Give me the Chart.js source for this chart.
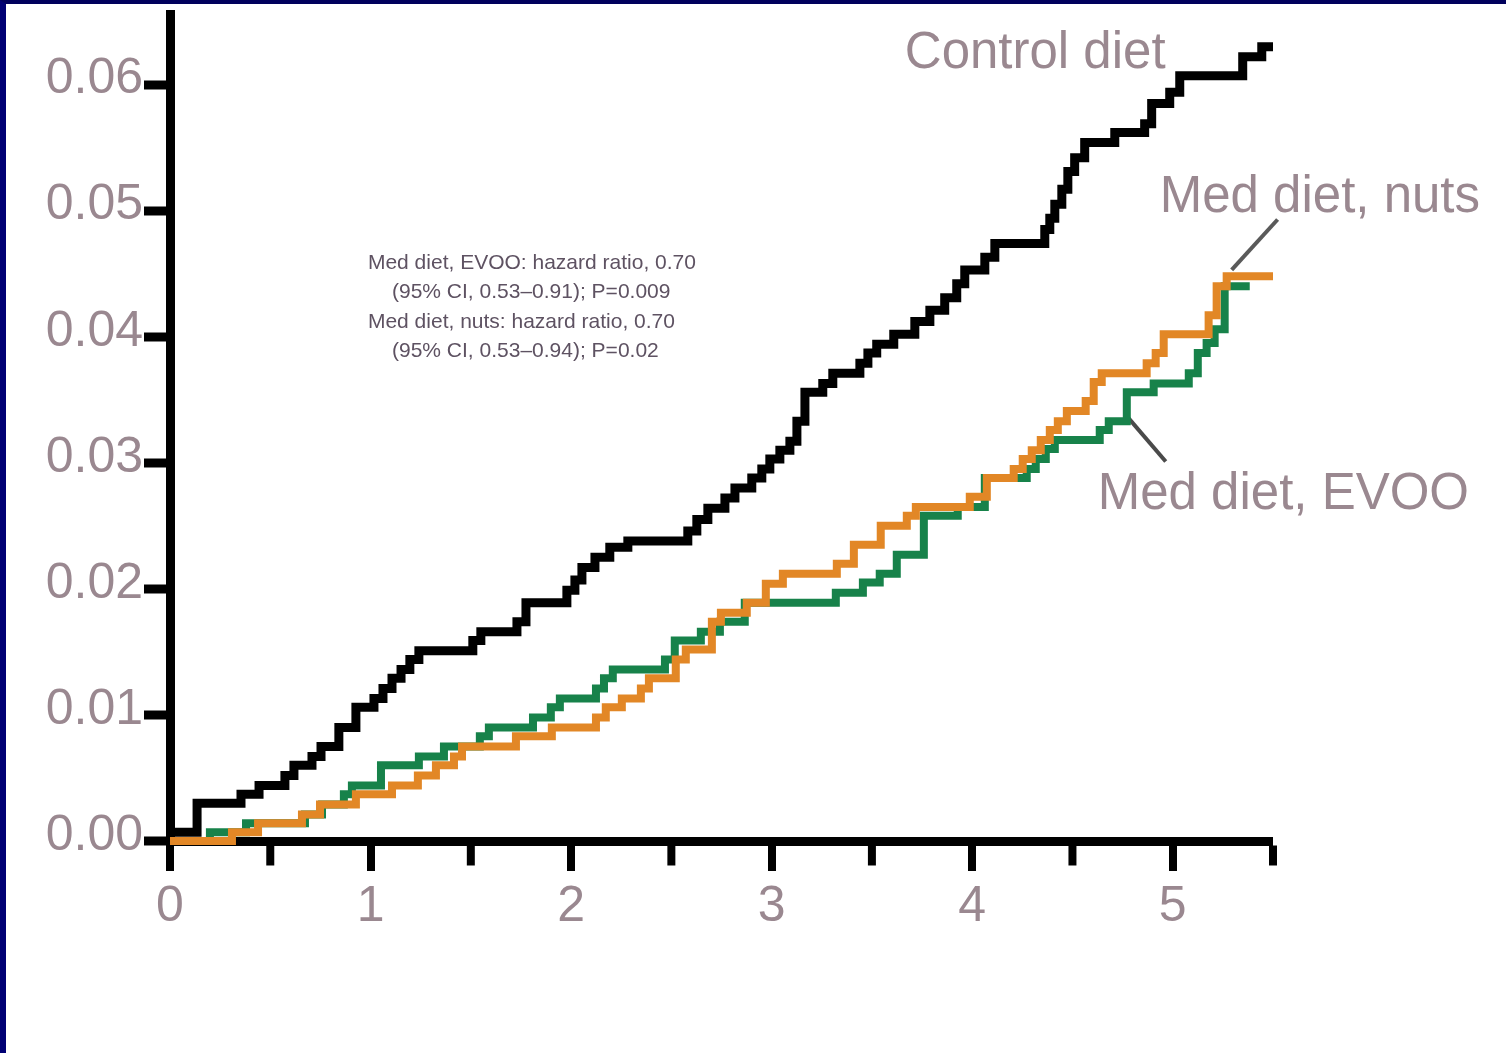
<!DOCTYPE html>
<html>
<head>
<meta charset="utf-8">
<title>Cumulative incidence by diet</title>
<script src="https://cdn.jsdelivr.net/npm/chart.js@4.4.1/dist/chart.umd.min.js"></script>
<style>
  html, body { margin: 0; padding: 0; background: #fff; }
  #frame {
    width: 1500px;
    height: 1049px;
    border-top: 4px solid #00005c;
    border-left: 6px solid #000074;
    background: #fff;
  }
  #chartBox { width: 1500px; height: 1049px; position: relative; }
</style>
</head>
<body>
<div id="frame"><div id="chartBox"><canvas id="incidenceChart"></canvas></div></div>
<script>
// Years of follow-up (x) and cumulative incidence (y)
const controlYears = [0, 0.135, 0.354, 0.444, 0.573, 0.618, 0.708, 0.753, 0.842, 0.927,
    1.017, 1.062, 1.107, 1.152, 1.196, 1.241, 1.510, 1.550, 1.730, 1.775,
    1.979, 2.019, 2.054, 2.119, 2.193, 2.283, 2.582, 2.627, 2.682, 2.767,
    2.817, 2.901, 2.951, 2.991, 3.041, 3.091, 3.126, 3.166, 3.255, 3.305,
    3.440, 3.480, 3.524, 3.609, 3.714, 3.789, 3.863, 3.923, 3.963, 4.063,
    4.113, 4.362, 4.387, 4.412, 4.447, 4.477, 4.511, 4.561, 4.711, 4.860,
    4.895, 4.985, 5.035, 5.349, 5.444, 5.5];
const controlRisk = [0.0007, 0.0030, 0.0037, 0.0044, 0.0052, 0.0060, 0.0067, 0.0075, 0.0090, 0.0106,
    0.0113, 0.0121, 0.0129, 0.0136, 0.0144, 0.0151, 0.0159, 0.0166, 0.0174, 0.0189,
    0.0199, 0.0207, 0.0217, 0.0225, 0.0233, 0.0238, 0.0246, 0.0255, 0.0264, 0.0272,
    0.0280, 0.0288, 0.0295, 0.0303, 0.0310, 0.0317, 0.0333, 0.0356, 0.0363, 0.0371,
    0.0379, 0.0387, 0.0394, 0.0402, 0.0412, 0.0421, 0.0431, 0.0442, 0.0453, 0.0463,
    0.0474, 0.0485, 0.0494, 0.0505, 0.0517, 0.0531, 0.0542, 0.0554, 0.0562, 0.0569,
    0.0585, 0.0594, 0.0607, 0.0622, 0.0630, 0.0630];

const nutsYears = [0, 0.309, 0.439, 0.658, 0.748, 0.927, 1.107, 1.236, 1.326, 1.416,
    1.456, 1.725, 1.904, 2.124, 2.173, 2.253, 2.348, 2.388, 2.522, 2.572,
    2.702, 2.747, 2.876, 2.971, 3.056, 3.325, 3.410, 3.544, 3.674, 3.719,
    3.988, 4.073, 4.207, 4.252, 4.297, 4.342, 4.387, 4.427, 4.472, 4.566,
    4.606, 4.646, 4.870, 4.915, 4.955, 5.179, 5.219, 5.269, 5.5];
const nutsRisk = [0, 0.0007, 0.0014, 0.0021, 0.0029, 0.0037, 0.0044, 0.0052, 0.0060, 0.0067,
    0.0075, 0.0083, 0.0090, 0.0098, 0.0106, 0.0113, 0.0121, 0.0129, 0.0144, 0.0152,
    0.0174, 0.0181, 0.0189, 0.0204, 0.0212, 0.0220, 0.0235, 0.0250, 0.0258, 0.0265,
    0.0273, 0.0288, 0.0295, 0.0303, 0.0310, 0.0318, 0.0326, 0.0333, 0.0341, 0.0349,
    0.0364, 0.0371, 0.0379, 0.0387, 0.0402, 0.0417, 0.0440, 0.0448, 0.0448];

const evooYears = [0, 0.199, 0.379, 0.673, 0.758, 0.867, 0.907, 1.052, 1.241, 1.366,
    1.545, 1.590, 1.810, 1.899, 1.944, 2.124, 2.164, 2.208, 2.468, 2.517,
    2.647, 2.742, 2.866, 3.320, 3.455, 3.539, 3.624, 3.759, 3.928, 4.063,
    4.272, 4.317, 4.367, 4.412, 4.636, 4.681, 4.771, 4.905, 5.080, 5.125,
    5.169, 5.209, 5.259, 5.384];
const evooRisk = [0, 0.0007, 0.0014, 0.0021, 0.0029, 0.0037, 0.0044, 0.0060, 0.0067, 0.0075,
    0.0083, 0.0090, 0.0098, 0.0106, 0.0113, 0.0121, 0.0129, 0.0136, 0.0144, 0.0159,
    0.0166, 0.0174, 0.0189, 0.0197, 0.0205, 0.0212, 0.0227, 0.0258, 0.0265, 0.0288,
    0.0295, 0.0303, 0.0311, 0.0318, 0.0326, 0.0333, 0.0356, 0.0363, 0.0371, 0.0387,
    0.0395, 0.0406, 0.0440, 0.0440];

// Leader lines from the curves to their labels
const evooLeaderYears = [4.771, 4.965];
const evooLeaderRisk = [0.0337, 0.0301];
const nutsLeaderYears = [5.294, 5.523];
const nutsLeaderRisk = [0.0453, 0.0493];

// Axes
const xTickValues = [0, 1, 2, 3, 4, 5];
const xMinorTickValues = [0.5, 1.5, 2.5, 3.5, 4.5, 5.5];
const yTickValues = [0, 0.01, 0.02, 0.03, 0.04, 0.05, 0.06];
const yTickLabels = ['0.00', '0.01', '0.02', '0.03', '0.04', '0.05', '0.06'];

// Text
const curveLabels = ['Control diet', 'Med diet, nuts', 'Med diet, EVOO'];
const noteLines = [
    'Med diet, EVOO: hazard ratio, 0.70',
    '(95% CI, 0.53\u20130.91); P=0.009',
    'Med diet, nuts: hazard ratio, 0.70',
    '(95% CI, 0.53\u20130.94); P=0.02'
];

const TEXT_FONT = '"Liberation Sans", Arial, sans-serif';

function toPoints(xs, ys) {
    return xs.map(function(x, i) { return { x: x, y: ys[i] }; });
}

document.addEventListener('DOMContentLoaded', function() {
    createIncidenceChart();
});

// short minor ticks at half years, hanging under the x axis
const minorTicksPlugin = {
    id: 'minorTicks',
    afterDraw(chart) {
        const xs = chart.scales.x;
        const ys = chart.scales.y;
        const ctx = chart.ctx;
        const top = ys.getPixelForValue(0) + 4.5;
        ctx.save();
        ctx.strokeStyle = '#000';
        ctx.lineWidth = 8;
        xMinorTickValues.forEach(function(v) {
            const px = xs.getPixelForValue(v);
            ctx.beginPath();
            ctx.moveTo(px, top);
            ctx.lineTo(px, top + 20);
            ctx.stroke();
        });
        ctx.restore();
    }
};

// curve labels and the hazard ratio note
const textPlugin = {
    id: 'chartText',
    afterDatasetsDraw(chart) {
        const xs = chart.scales.x;
        const ys = chart.scales.y;
        const ctx = chart.ctx;
        ctx.save();
        ctx.textBaseline = 'alphabetic';
        ctx.textAlign = 'left';

        ctx.fillStyle = '#9a8890';
        ctx.font = '51px ' + TEXT_FONT;
        ctx.fillText(curveLabels[0], xs.getPixelForValue(3.664), ys.getPixelForValue(0.0613));
        ctx.fillText(curveLabels[1], xs.getPixelForValue(4.935), ys.getPixelForValue(0.0499));
        ctx.fillText(curveLabels[2], xs.getPixelForValue(4.626), ys.getPixelForValue(0.0263));

        ctx.fillStyle = '#5e5262';
        ctx.font = '21px ' + TEXT_FONT;
        const left = xs.getPixelForValue(0.987);
        const indent = xs.getPixelForValue(1.107);
        let base = ys.getPixelForValue(0.0454);
        noteLines.forEach(function(line, i) {
            ctx.fillText(line, i % 2 === 0 ? left : indent, base);
            base += 29.5;
        });
        ctx.restore();
    }
};

function createIncidenceChart() {
    const ctx = document.getElementById('incidenceChart');

    new Chart(ctx, {
        type: 'line',
        data: {
            datasets: [
                {
                    label: 'Control diet',
                    data: toPoints(controlYears, controlRisk),
                    borderColor: '#000000',
                    borderWidth: 9,
                    stepped: 'before',
                    order: 1
                },
                {
                    label: 'Med diet, nuts',
                    data: toPoints(nutsYears, nutsRisk),
                    borderColor: '#e28726',
                    borderWidth: 8,
                    stepped: 'before',
                    order: 2
                },
                {
                    label: 'Med diet, EVOO',
                    data: toPoints(evooYears, evooRisk),
                    borderColor: '#17824a',
                    borderWidth: 8,
                    stepped: 'before',
                    order: 3
                },
                {
                    label: 'EVOO leader',
                    data: toPoints(evooLeaderYears, evooLeaderRisk),
                    borderColor: '#4a4a4a',
                    borderWidth: 4,
                    order: 4
                },
                {
                    label: 'Nuts leader',
                    data: toPoints(nutsLeaderYears, nutsLeaderRisk),
                    borderColor: '#5a5a5a',
                    borderWidth: 4,
                    order: 4
                }
            ]
        },
        options: {
            responsive: true,
            maintainAspectRatio: false,
            animation: false,
            events: [],
            layout: {
                padding: { left: 0, top: 10, right: 233, bottom: 112 }
            },
            elements: {
                point: { radius: 0 },
                line: {
                    fill: false,
                    tension: 0,
                    borderJoinStyle: 'miter',
                    borderCapStyle: 'butt'
                }
            },
            datasets: {
                line: { clip: false }
            },
            plugins: {
                legend: { display: false },
                tooltip: { enabled: false },
                title: { display: false }
            },
            scales: {
                x: {
                    type: 'linear',
                    position: 'bottom',
                    min: 0,
                    max: 5.5,
                    afterBuildTicks: function(axis) {
                        axis.ticks = xTickValues.map(function(v) { return { value: v }; });
                    },
                    afterFit: function(axis) { axis.height = 100; },
                    border: { display: true, color: '#000', width: 9 },
                    grid: {
                        drawOnChartArea: false,
                        drawTicks: true,
                        lineWidth: 0,
                        tickLength: 30,
                        tickWidth: 8,
                        tickColor: '#000'
                    },
                    ticks: {
                        autoSkip: false,
                        maxRotation: 0,
                        padding: 6,
                        color: '#9a8890',
                        font: { family: TEXT_FONT, size: 50 },
                        callback: function(value) { return String(value); }
                    }
                },
                y: {
                    type: 'linear',
                    min: 0,
                    max: 0.0656,
                    afterBuildTicks: function(axis) {
                        axis.ticks = yTickValues.map(function(v) { return { value: v }; });
                    },
                    afterFit: function(axis) {
                        axis.width = 164;
                        axis.paddingTop = 0;
                        axis.paddingBottom = 0;
                    },
                    border: { display: true, color: '#000', width: 9 },
                    grid: {
                        drawOnChartArea: false,
                        drawTicks: true,
                        lineWidth: 0,
                        tickLength: 26,
                        tickWidth: 9,
                        tickColor: '#000'
                    },
                    ticks: {
                        autoSkip: false,
                        padding: 1,
                        labelOffset: -5,
                        color: '#9a8890',
                        font: { family: TEXT_FONT, size: 50, lineHeight: 0.3 },
                        callback: function(value) {
                            const i = yTickValues.indexOf(value);
                            return i >= 0 ? yTickLabels[i] : '';
                        }
                    }
                }
            }
        },
        plugins: [minorTicksPlugin, textPlugin]
    });
}
</script>
</body>
</html>
